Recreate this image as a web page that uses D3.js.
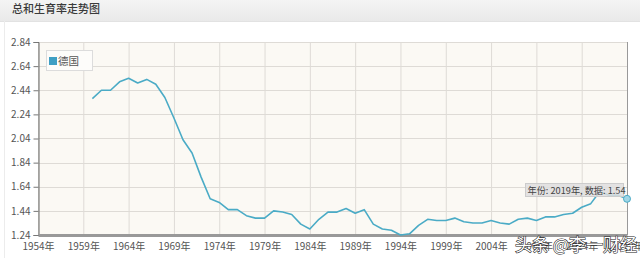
<!DOCTYPE html>
<html>
<head>
<meta charset="utf-8">
<script src="https://cdn.jsdelivr.net/npm/d3@7"></script>
<style>
  body { margin: 0; background: #fff; }
  svg text { font-family: "Noto Sans CJK SC", "Noto Sans", sans-serif; }
</style>
</head>
<body>
<svg width="640" height="258"></svg>
<script>
// 德国 总和生育率 1960-2019
var years = d3.range(1960, 2020);
var tfr = [2.37, 2.44, 2.44, 2.51, 2.54, 2.50, 2.53, 2.49, 2.38, 2.21,
           2.03, 1.92, 1.72, 1.54, 1.51, 1.45, 1.45, 1.40, 1.38, 1.38,
           1.44, 1.43, 1.41, 1.33, 1.29, 1.37, 1.43, 1.43, 1.46, 1.42,
           1.45, 1.33, 1.29, 1.28, 1.24, 1.25, 1.32, 1.37, 1.36, 1.36,
           1.38, 1.35, 1.34, 1.34, 1.36, 1.34, 1.33, 1.37, 1.38, 1.36,
           1.39, 1.39, 1.41, 1.42, 1.47, 1.50, 1.60, 1.57, 1.57, 1.54];
var xTicks = d3.range(1954, 2020, 5);
var yTicks = [1.24, 1.44, 1.64, 1.84, 2.04, 2.24, 2.44, 2.64, 2.84];
var seriesName = "德国";
var title = "总和生育率走势图";

var data = years.map(function(y, i) { return {year: y, v: tfr[i]}; });

var svg = d3.select("svg");
var defs = svg.append("defs");
var grad = defs.append("linearGradient").attr("id", "hdr").attr("x1", 0).attr("y1", 0).attr("x2", 0).attr("y2", 1);
grad.append("stop").attr("offset", "0%").attr("stop-color", "#f4f4f4");
grad.append("stop").attr("offset", "100%").attr("stop-color", "#e9e9e9");

// header
svg.append("rect").attr("x", 0).attr("y", 0).attr("width", 640).attr("height", 21).attr("fill", "url(#hdr)");
svg.append("line").attr("x1", 0).attr("x2", 640).attr("y1", 21.5).attr("y2", 21.5).attr("stroke", "#e2e2e2");
svg.append("line").attr("x1", 4.5).attr("x2", 4.5).attr("y1", 21).attr("y2", 258).attr("stroke", "#ececec");
svg.append("text").attr("x", 12).attr("y", 12.5).attr("font-size", 11).attr("font-weight", 500)
  .attr("fill", "#3a3a3a").text(title);

var x = d3.scaleLinear().domain([1954, 2019]).range([38, 627]);
var y = d3.scaleLinear().domain([1.24, 2.84]).range([235, 42]);

var g = svg.append("g");

// plot background
g.append("rect").attr("x", 38).attr("y", 42).attr("width", 589).attr("height", 193).attr("fill", "#fbf9f4");

// grid
g.selectAll(".vg").data(xTicks).enter().append("line")
  .attr("x1", function(d) { return x(d) + 0.5; }).attr("x2", function(d) { return x(d) + 0.5; })
  .attr("y1", 42).attr("y2", 235).attr("stroke", "#dedbd6");
g.selectAll(".hg").data(yTicks).enter().append("line")
  .attr("x1", 38).attr("x2", 627)
  .attr("y1", function(d) { return Math.round(y(d)) + 0.5; }).attr("y2", function(d) { return Math.round(y(d)) + 0.5; })
  .attr("stroke", "#dedbd6");

// right border
g.append("line").attr("x1", 627.5).attr("x2", 627.5).attr("y1", 42).attr("y2", 235).attr("stroke", "#999");

// y axis
var yAxis = g.append("g").attr("transform", "translate(38.5,0)")
  .call(d3.axisLeft(y).tickValues(yTicks).tickFormat(d3.format(".2f")).tickSize(5).tickPadding(3));
yAxis.select(".domain").attr("stroke", "#666");
yAxis.selectAll(".tick line").attr("stroke", "#777");
yAxis.selectAll("text").attr("fill", "#555").attr("font-size", 10);

// x axis
var xAxis = g.append("g").attr("transform", "translate(0,235)")
  .call(d3.axisBottom(x).tickValues(xTicks).tickFormat(function(d) { return d + "年"; }).tickSize(0).tickPadding(8));
xAxis.select(".domain").attr("stroke", "#999").attr("stroke-width", 3);
xAxis.selectAll("text").attr("fill", "#555").attr("font-size", 10);

// line
var line = d3.line()
  .x(function(d) { return x(d.year); })
  .y(function(d) { return y(d.v); });
g.append("path").datum(data)
  .attr("d", line)
  .attr("fill", "none")
  .attr("stroke", "#4aabc6")
  .attr("stroke-width", 1.6)
  .attr("stroke-linejoin", "round");

// highlighted point
var last = data[data.length - 1];
g.append("circle").attr("cx", x(last.year)).attr("cy", y(last.v)).attr("r", 3.5)
  .attr("fill", "#9fd6e6").attr("stroke", "#4aabc6").attr("stroke-width", 1);

// legend
var lg = g.append("g").attr("transform", "translate(46,50)");
lg.append("rect").attr("x", 0.5).attr("y", 0.5).attr("width", 46).attr("height", 20)
  .attr("fill", "#fdfcfa").attr("stroke", "#dcdcdc");
lg.append("rect").attr("x", 3).attr("y", 7).attr("width", 8).attr("height", 8).attr("fill", "#3f9fc4");
lg.append("text").attr("x", 12).attr("y", 15).attr("font-size", 10.5).attr("fill", "#555").text(seriesName);

// tooltip
var tt = g.append("g").attr("transform", "translate(525,183)");
tt.append("rect").attr("x", 0.5).attr("y", 0.5).attr("width", 98).attr("height", 13)
  .attr("fill", "rgba(222,222,222,0.85)").attr("stroke", "#ccc");
tt.append("text").attr("x", 2.5).attr("y", 10.5).attr("font-size", 9.2).attr("fill", "#444")
  .text("年份: " + last.year + "年, 数据: " + last.v.toFixed(2));

// watermark
svg.append("text").attr("x", 515).attr("y", 251).attr("font-size", 17)
  .attr("fill", "#fff").attr("stroke", "#222").attr("stroke-width", 1.1)
  .attr("paint-order", "stroke").text("头条 @李一财经");
</script>
</body>
</html>
